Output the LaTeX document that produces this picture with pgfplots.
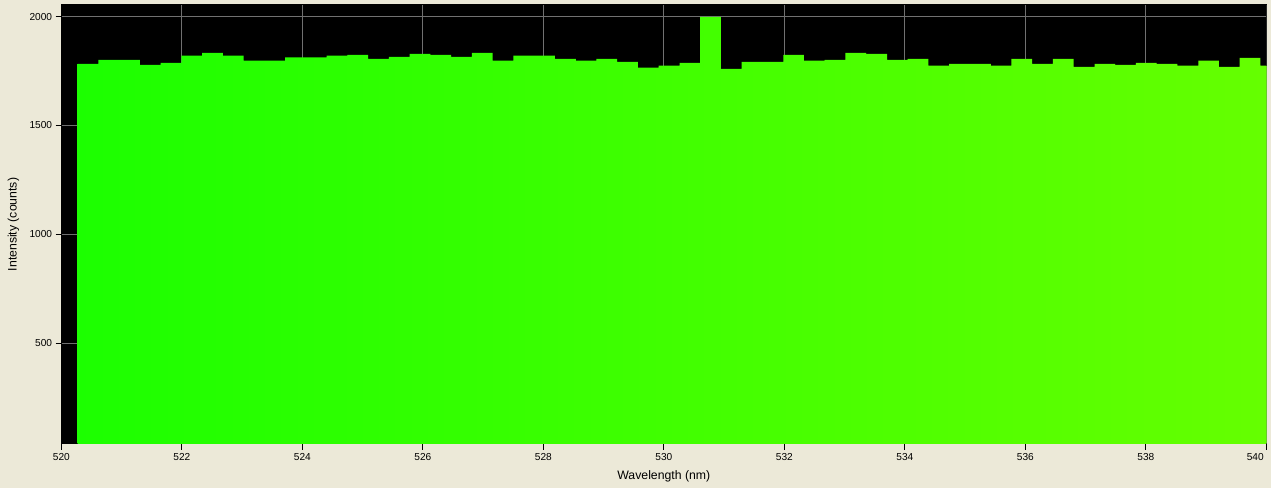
\documentclass[border=0pt]{standalone}
\usepackage{fontspec}
\setmainfont{Liberation Sans}
\usepackage{pgfplots}
\pgfplotsset{compat=1.18}
\usetikzlibrary{backgrounds}

\definecolor{winbg}{RGB}{236,233,216}
\definecolor{gridgray}{RGB}{112,112,112}
\definecolor{greenL}{RGB}{28,255,0}
\definecolor{greenR}{RGB}{102,255,0}

\begin{document}
\fontsize{7.5}{9}\selectfont
\begin{tikzpicture}
\begin{axis}[
    scale only axis,
    width=903.75pt, height=329.25pt,
    xmin=520, xmax=540, ymin=37, ymax=2053,
    axis background/.style={fill=black},
    xtick={520,522,...,540},
    xticklabels={520,522,524,526,528,530,532,534,536,538,{\llap{540\hspace{2pt}}}},
    ytick={500,1000,1500,2000},
    xtick pos=bottom, ytick pos=left,
    tick align=outside,
    major tick length=4.2pt,
    tick style={black, line width=0.75pt},
    grid=major,
    major grid style={gridgray, line width=0.75pt},
    axis line style={black, line width=0.75pt},
    /pgf/number format/1000 sep={},
    /pgf/number format/assume math mode=true,
    tick label style={font=\fontsize{7.6}{9}\selectfont},
    xlabel={Wavelength (nm)},
    ylabel={Intensity (counts)},
    every axis x label/.style={at={(axis description cs:0.5,-0.0729)}, anchor=center,
        font=\fontsize{9.2}{11}\selectfont},
    every axis y label/.style={at={(axis description cs:-0.0398,0.5)}, anchor=center, rotate=90,
        font=\fontsize{9.2}{11}\selectfont},
]
% spectrum bins (counts), step height read from the screen capture
\addplot[const plot, draw=none, left color=greenL, right color=greenR] coordinates {
(520.272,1783) (520.616,1801) (520.961,1801) (521.305,1778) (521.650,1787)
(521.994,1820) (522.338,1833) (522.683,1820) (523.027,1797) (523.372,1797)
(523.716,1813) (524.060,1813) (524.405,1820) (524.749,1824) (525.094,1806)
(525.438,1815) (525.782,1829) (526.127,1824) (526.471,1815) (526.816,1833)
(527.160,1797) (527.504,1820) (527.849,1820) (528.193,1806) (528.538,1797)
(528.882,1806) (529.226,1792) (529.571,1765) (529.915,1774) (530.260,1787)
(530.604,1999) (530.948,1760) (531.293,1792) (531.637,1792) (531.982,1824)
(532.326,1797) (532.670,1801) (533.015,1833) (533.359,1829) (533.704,1801)
(534.048,1806) (534.392,1774) (534.737,1783) (535.081,1783) (535.426,1774)
(535.770,1806) (536.114,1783) (536.459,1806) (536.803,1769) (537.148,1783)
(537.492,1778) (537.836,1787) (538.181,1783) (538.525,1774) (538.870,1797)
(539.214,1769) (539.558,1810) (539.903,1774) (540.247,1774)
} \closedcycle;
\coordinate (bl) at (rel axis cs:0,0);
\coordinate (tr) at (rel axis cs:1,1);
\draw[gridgray, line width=0.75pt] (rel axis cs:1,0) -- (rel axis cs:1,1);
\end{axis}
\pgfresetboundingbox
\begin{scope}[on background layer]
\fill[winbg] ([shift={(-46pt,-33pt)}]bl) rectangle ([shift={(3.5pt,3.75pt)}]tr);
\end{scope}
\end{tikzpicture}
\end{document}
